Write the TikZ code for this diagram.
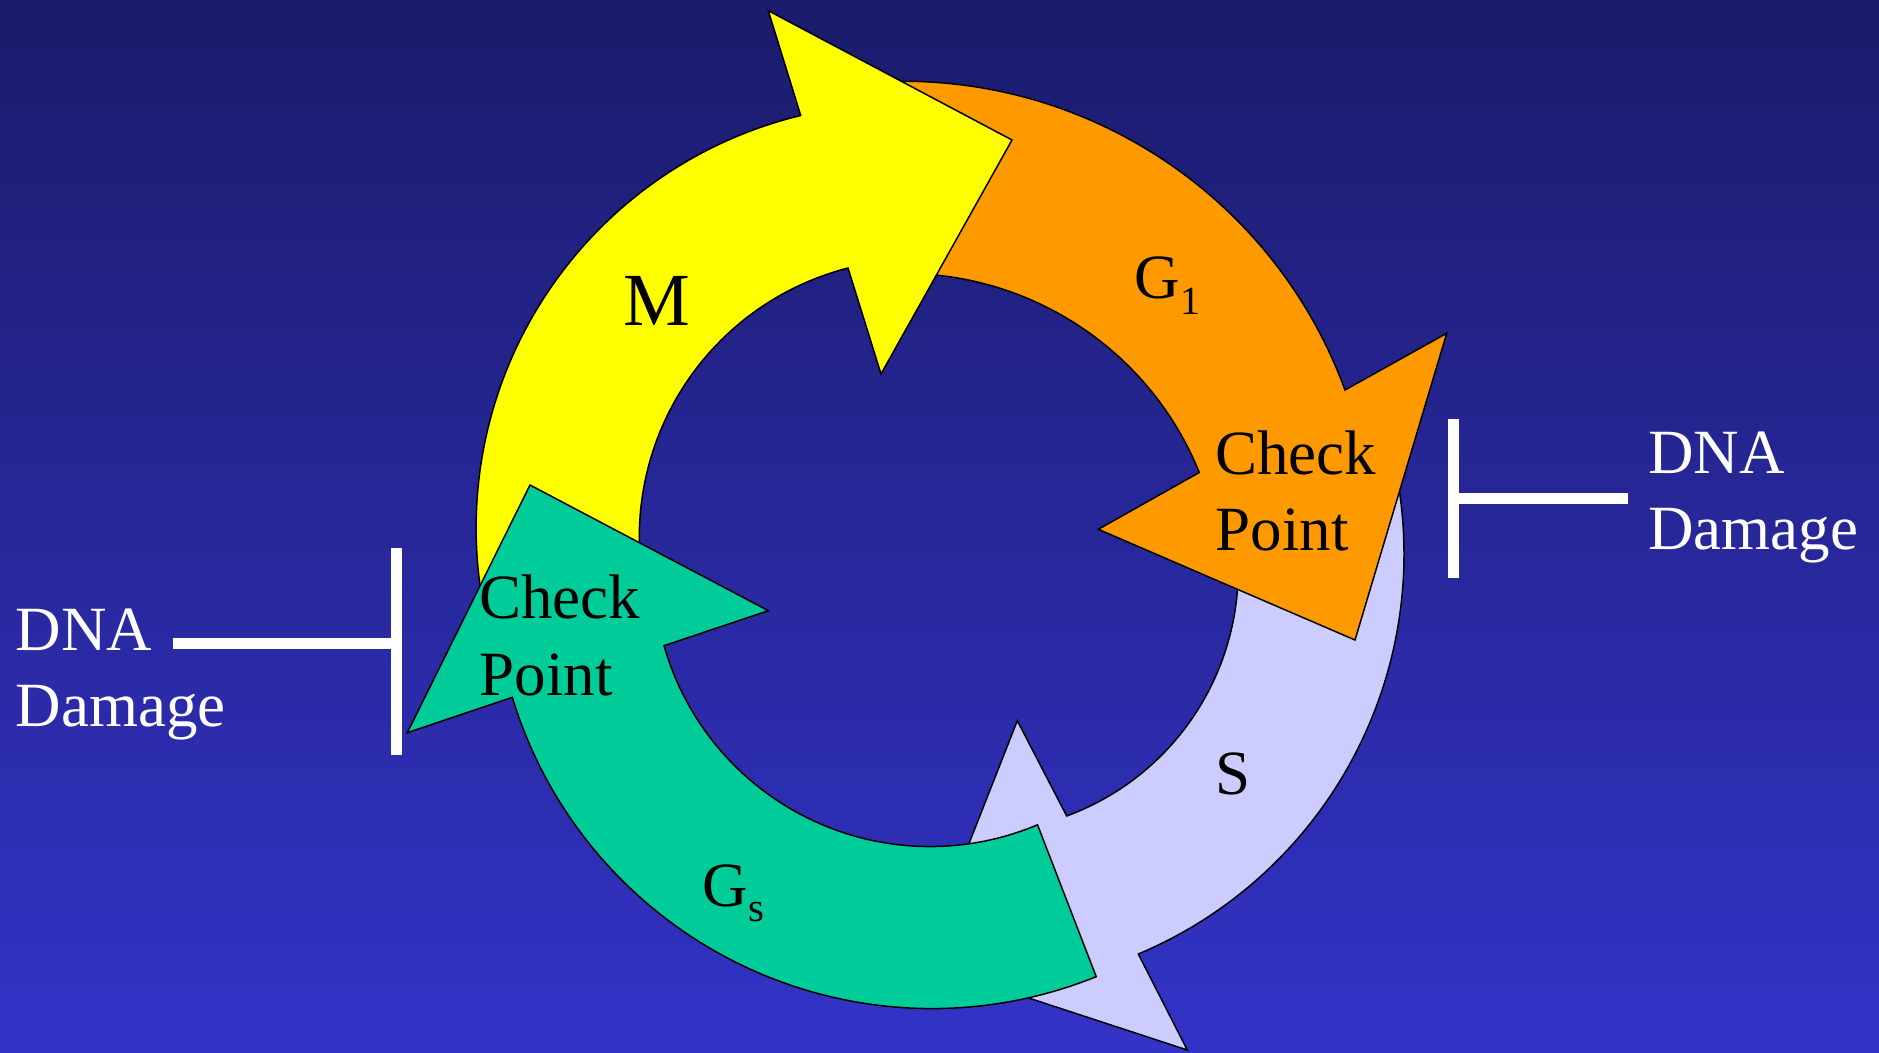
\documentclass[tikz,border=0pt]{standalone}
\usepackage{fontspec}
\setmainfont{Liberation Serif}
\usetikzlibrary{calc}
\definecolor{bgtop}{RGB}{27,27,107}
\definecolor{bgbot}{RGB}{51,51,200}
\definecolor{cyellow}{RGB}{255,255,0}
\definecolor{corange}{RGB}{255,153,0}
\definecolor{clavender}{RGB}{204,204,255}
\definecolor{cgreen}{RGB}{0,204,153}
% draws one curved arrow of the cycle from the current macro values
\newcommand\drawcellarrow[1]{%
  \pgfmathsetmacro\aJo{atan2(\yJo-\yCo,\xJo-\xCo)}%
  \pgfmathsetmacro\rO{100*veclen((\xJo-\xCo)/100,(\yJo-\yCo)/100)}%
  \pgfmathsetmacro\aTo{atan2(\yTo-\yCo,\xTo-\xCo)}%
  \pgfmathsetmacro\aTo{\aTo>\aJo ? \aTo-360 : \aTo}%
  \pgfmathsetmacro\aJi{atan2(\yJi-\yCi,\xJi-\xCi)}%
  \pgfmathsetmacro\rI{100*veclen((\xJi-\xCi)/100,(\yJi-\yCi)/100)}%
  \pgfmathsetmacro\aTi{atan2(\yTi-\yCi,\xTi-\xCi)}%
  \pgfmathsetmacro\aTi{\aTi>\aJi ? \aTi-360 : \aTi}%
  \draw[cellshape,fill=#1] (\xJo,\yJo) arc[start angle=\aJo,end angle=\aTo,radius=\rO]
    -- ($(\xCi,\yCi)+(\aTi:\rI)$) arc[start angle=\aTi,end angle=\aJi,radius=\rI]
    -- (\xBi,\yBi) -- (\xTp,\yTp) -- (\xBo,\yBo) -- cycle;
}
\begin{document}
\begin{tikzpicture}[x=1pt,y=-1pt,
  cellshape/.style={draw=black,line width=1.5pt,line join=miter},
  lbl/.style={inner sep=0pt,anchor=base west,font=\fontsize{63}{63}\selectfont},
  wlbl/.style={lbl,text=white},
  inhib/.style={draw=white,line width=11pt}]
\useasboundingbox (0,0) rectangle (1879,1052);
\shade[top color=bgtop,bottom color=bgbot] (0,0) rectangle (1879,1052);

% S phase (lavender)
\def\xCo{970}\def\yCo{554}\def\xCi{976}\def\yCi{570}
\def\xJo{1138.3}\def\yJo{954}\def\xBo{1187.3}\def\yBo{1050}
\def\xTp{922}\def\yTp{963}\def\xBi{1017.3}\def\yBi{720.7}
\def\xJi{1066.7}\def\yJi{816}
\def\xTo{1394.7}\def\yTo{460}\def\xTi{1236.3}\def\yTi{540}
\drawcellarrow{clavender}

% G1 phase (orange)
\def\xCo{903}\def\yCo{552}\def\xCi{904}\def\yCi{592}
\def\xJo{1345}\def\yJo{390}\def\xBo{1446.7}\def\yBo{333.3}
\def\xTp{1355}\def\yTp{640}\def\xBi{1098.3}\def\yBi{529.3}
\def\xJi{1199.3}\def\yJi{472.5}
\def\xTo{880}\def\yTo{81.6}\def\xTi{900}\def\yTi{273}
\drawcellarrow{corange}

% M phase (yellow)
\def\xCo{900.5}\def\yCo{528}\def\xCi{917}\def\yCi{537}
\def\xJo{800.7}\def\yJo{115.5}\def\xBo{768.3}\def\yBo{10.7}
\def\xTp{1012}\def\yTp{140}\def\xBi{881}\def\yBi{374}
\def\xJi{848}\def\yJi{268}
\def\xTo{491}\def\yTo{638}\def\xTi{649}\def\yTi{609}
\drawcellarrow{cyellow}

% Gs phase (green)
\def\xCo{932}\def\yCo{570}\def\xCi{930}\def\yCi{570}
\def\xJo{512.3}\def\yJo{697.3}\def\xBo{407.3}\def\yBo{732.7}
\def\xTp{530}\def\yTp{485}\def\xBi{768.3}\def\yBi{610.7}
\def\xJi{664}\def\yJi{645.7}
\def\xTo{1096}\def\yTo{976}\def\xTi{1037.3}\def\yTi{824.3}
\drawcellarrow{cgreen}

% labels
\node[lbl,font=\fontsize{75}{75}\selectfont] (lm) at (623,325) {M};
\node[lbl] (lg1) at (1134.7,298.3) {G\raisebox{-15.7pt}{\fontsize{40}{40}\selectfont 1}};
\node[lbl] (ls) at (1215.4,794) {S};
\node[lbl] (lgs) at (702.4,906.7) {G\raisebox{-15pt}{\fontsize{41}{41}\selectfont s}};
\node[lbl] (ckR) at (1215,474) {Check};
\node[lbl] (ptR) at (1215.5,550.7) {Point};
\node[lbl] (ckL) at (479,618.3) {Check};
\node[lbl] (ptL) at (479.5,695) {Point};
\node[wlbl] (dnaR) at (1648,473.7) {DNA};
\node[wlbl] (dmgR) at (1648,549.5) {Damage};
\node[wlbl] (dnaL) at (15.8,650.1) {DNA};
\node[wlbl] (dmgL) at (15.8,726.6) {Damage};

% DNA damage inhibition bars
\coordinate (barRtop) at (1453,419);
\coordinate (barRbot) at (1453,578);
\coordinate (barRmid) at (1453,498.7);
\coordinate (inhRend) at (1628,498.7);
\draw[inhib] (inhRend) -- (barRmid);
\draw[inhib] (barRtop) -- (barRbot);
\coordinate (barLtop) at (396.3,548);
\coordinate (barLbot) at (396.3,755);
\coordinate (barLmid) at (396.3,643);
\coordinate (inhLend) at (172.7,643);
\draw[inhib] (inhLend) -- (barLmid);
\draw[inhib] (barLtop) -- (barLbot);
\end{tikzpicture}
\end{document}
